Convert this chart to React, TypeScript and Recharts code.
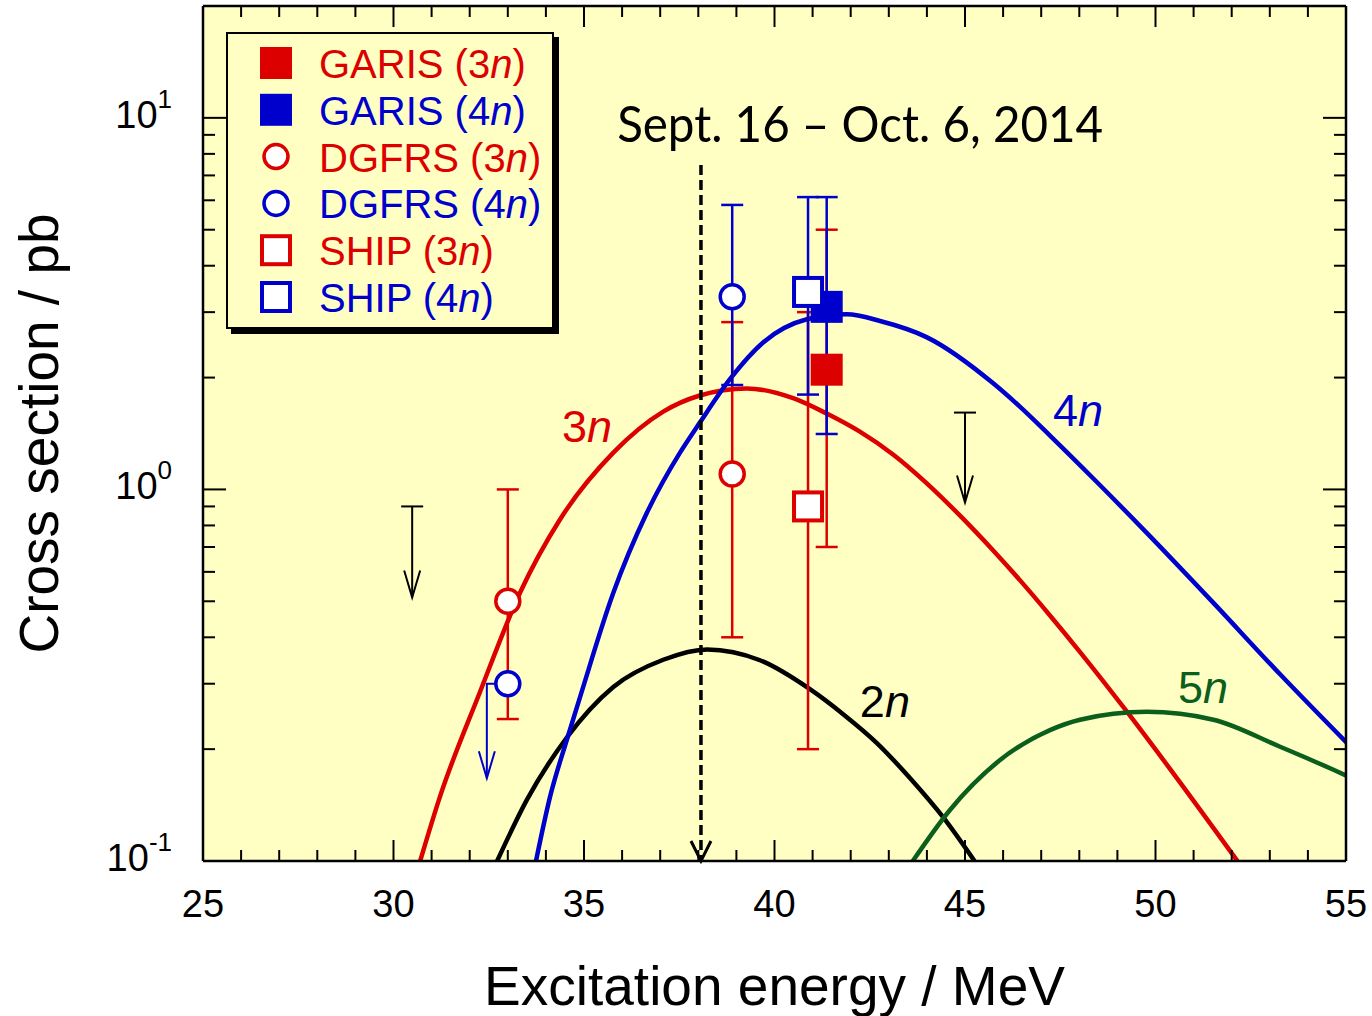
import React from "react";
import {
  ComposedChart,
  Line,
  Scatter,
  XAxis,
  YAxis,
  ErrorBar,
  ReferenceLine,
  ReferenceDot,
  CartesianGrid,
  Legend,
  Label,
} from "recharts";

const FONT = '"Liberation Sans", Arial, Helvetica, sans-serif';
const RED = "#dc0000";
const BLUE = "#0000cc";
const GREEN = "#0b5e1b";
const BG = "#ffffc4";

// axis ticks
const xTicks = Array.from({ length: 31 }, (_, i) => 25 + i);
const yTicks = [
  0.1, 0.2, 0.3, 0.4, 0.5, 0.6, 0.7, 0.8, 0.9,
  1, 2, 3, 4, 5, 6, 7, 8, 9,
  10,
];

// calculated excitation functions: [E* (MeV), sigma (pb)]
const fit2n: [number, number][] = [
  [32.72, 0.1], [33.5, 0.146], [34.55, 0.215], [35.77, 0.294], [37.08, 0.348],
  [38.23, 0.371], [39.62, 0.347], [40.93, 0.29], [41.81, 0.248], [42.68, 0.208],
  [43.56, 0.167], [44.43, 0.131], [45.25, 0.1],
];
const fit3n: [number, number][] = [
  [30.7, 0.1], [31.22, 0.149], [32.27, 0.285], [33.32, 0.527], [34.37, 0.83],
  [35.77, 1.256], [37.08, 1.62], [38.04, 1.79], [39.27, 1.87], [40.49, 1.76],
  [41.37, 1.6], [42.24, 1.43], [43.12, 1.24], [43.99, 1.04], [44.87, 0.85],
  [45.74, 0.685], [46.44, 0.57], [47.23, 0.458], [48.02, 0.365], [49.24, 0.253],
  [50.38, 0.177], [52.15, 0.1],
];
const fit4n: [number, number][] = [
  [33.74, 0.1], [34.11, 0.149], [34.55, 0.212], [34.9, 0.277], [35.77, 0.527],
  [36.65, 0.865], [37.52, 1.256], [38.04, 1.513], [38.83, 1.98], [39.71, 2.49],
  [40.85, 2.87], [41.9, 2.96], [42.77, 2.84], [43.99, 2.57], [45.74, 1.93],
  [46.44, 1.67], [47.23, 1.396], [48.46, 1.047], [49.77, 0.764], [51.52, 0.495],
  [53.27, 0.318], [55.02, 0.208],
];
const fit5n: [number, number][] = [
  [43.63, 0.1], [44.6, 0.137], [45.92, 0.187], [47.23, 0.225], [48.02, 0.24],
  [49.77, 0.252], [51.52, 0.24], [53.27, 0.203], [54.67, 0.176], [55.05, 0.169],
];

// measured cross sections, err = [minus, plus]
type Pt = { e: number; v: number; err?: [number, number] };
const garis3n: Pt[] = [{ e: 41.37, v: 2.1, err: [1.4, 2.9] }];
const garis4n: Pt[] = [{ e: 41.37, v: 3.1, err: [1.69, 3.02] }];
const dgfrs3n: Pt[] = [
  { e: 33.0, v: 0.5, err: [0.259, 0.5] },
  { e: 38.89, v: 1.1, err: [0.7, 1.72] },
];
const dgfrs4n: Pt[] = [
  { e: 33.0, v: 0.3 },
  { e: 38.89, v: 3.3, err: [1.39, 2.53] },
];
const ship3n: Pt[] = [{ e: 40.88, v: 0.9, err: [0.7, 2.1] }];
const ship4n: Pt[] = [{ e: 40.88, v: 3.4, err: [1.6, 2.72] }];

// upper limits: bar top, arrow tip
const limitsBlack = [
  { e: 30.49, top: 0.9, tip: 0.512 },
  { e: 45.0, top: 1.61, tip: 0.922 },
];
const limitsBlue = [{ e: 32.45, top: 0.3, tip: 0.167 }];

// run period marker
const runEnergy = 38.07;
const runTop = 7.47;

type Kind = "filledSquare" | "circle" | "openSquare";
const datasets: { name: string; n: number; kind: Kind; color: string; data: Pt[] }[] = [
  { name: "GARIS", n: 3, kind: "filledSquare", color: RED, data: garis3n },
  { name: "GARIS", n: 4, kind: "filledSquare", color: BLUE, data: garis4n },
  { name: "DGFRS", n: 3, kind: "circle", color: RED, data: dgfrs3n },
  { name: "DGFRS", n: 4, kind: "circle", color: BLUE, data: dgfrs4n },
  { name: "SHIP", n: 3, kind: "openSquare", color: RED, data: ship3n },
  { name: "SHIP", n: 4, kind: "openSquare", color: BLUE, data: ship4n },
];

const curves = [
  { n: 2, color: "#000", data: fit2n, label: { e: 42.24, v: 0.2444 } },
  { n: 3, color: RED, data: fit3n, label: { e: 34.42, v: 1.339 } },
  { n: 4, color: BLUE, data: fit4n, label: { e: 47.31, v: 1.479 } },
  { n: 5, color: GREEN, data: fit5n, label: { e: 50.59, v: 0.2667 } },
];

const toRows = (pts: [number, number][]) => pts.map(([e, v]) => ({ e, v }));

function Marker({ kind, color, cx, cy }: { kind: Kind; color: string; cx: number; cy: number }) {
  if (kind === "filledSquare")
    return <rect x={cx - 16} y={cy - 16} width={32} height={32} fill={color} />;
  if (kind === "openSquare")
    return (
      <rect x={cx - 14} y={cy - 14} width={28} height={28} fill="#fff" stroke={color} strokeWidth={4} />
    );
  return <circle cx={cx} cy={cy} r={12} fill="#fff" stroke={color} strokeWidth={3.5} />;
}

const isDecade = (v: number) => Math.abs(Math.log10(v) - Math.round(Math.log10(v))) < 1e-6;

function XTick(props: any) {
  const { x, y, payload, side } = props;
  const major = payload.value % 5 === 0;
  const len = major ? 21 : 11;
  const dir = side === "top" ? 1 : -1;
  return (
    <g>
      <line x1={x} y1={y} x2={x} y2={y + dir * len} stroke="#000" strokeWidth={2} />
      {side === "bottom" && major && (
        <text x={x} y={y + 56} textAnchor="middle" fontSize={38} fontFamily={FONT} fill="#000">
          {payload.value}
        </text>
      )}
    </g>
  );
}

function YTick(props: any) {
  const { x, y, payload, side } = props;
  const major = isDecade(payload.value);
  const len = major ? 23 : 12;
  const dir = side === "left" ? 1 : -1;
  return (
    <g>
      <line x1={x} y1={y} x2={x + dir * len} y2={y} stroke="#000" strokeWidth={2} />
      {side === "left" && major && (
        <text x={x - 31} y={y + 10} textAnchor="end" fontSize={38} fontFamily={FONT} fill="#000">
          10
          <tspan dy={-20} fontSize={26}>
            {Math.round(Math.log10(payload.value))}
          </tspan>
        </text>
      )}
    </g>
  );
}

function LimitArrow(props: any) {
  const { x1, y1, x2, y2, color, hook } = props;
  return (
    <g stroke={color} strokeWidth={2} fill="none">
      {hook ? (
        <polyline points={`${x1 + 8},${y1} ${x1},${y1} ${x2},${y2}`} />
      ) : (
        <>
          <line x1={x1 - 11} y1={y1} x2={x1 + 11} y2={y1} />
          <line x1={x1} y1={y1} x2={x2} y2={y2} />
        </>
      )}
      <polyline points={`${x2 - 8},${y2 - 27} ${x2},${y2} ${x2 + 8},${y2 - 27}`} />
    </g>
  );
}

function RunArrow(props: any) {
  const { x1, y1, x2, y2 } = props;
  return (
    <g stroke="#000" strokeWidth={3.5} fill="none">
      <line x1={x1} y1={y1} x2={x2} y2={y2 - 2} strokeDasharray="10 5" />
      <polyline points={`${x2 - 10},${y2 - 20} ${x2},${y2} ${x2 + 10},${y2 - 20}`} strokeWidth={3} />
    </g>
  );
}

function LegendBox() {
  return (
    <div
      style={{
        width: 324,
        height: 293,
        border: "2px solid #000",
        background: BG,
        boxShadow: "5px 5px 0 #000",
      }}
    >
      <svg width={324} height={293}>
        {datasets.map((d, i) => {
          const cy = 29 + i * 46.8;
          return (
            <g key={i}>
              <Marker kind={d.kind} color={d.color} cx={48} cy={cy} />
              <text x={91} y={cy + 15} fontSize={40} fontFamily={FONT} fill={d.color}>
                {d.name} ({d.n}
                <tspan fontStyle="italic">n</tspan>)
              </text>
            </g>
          );
        })}
      </svg>
    </div>
  );
}

export default function App() {
  const red = datasets.filter((d) => d.color === RED).flatMap((d) => d.data.filter((p) => p.err));
  const blue = datasets.filter((d) => d.color === BLUE).flatMap((d) => d.data.filter((p) => p.err));

  return (
    <div style={{ position: "absolute", left: 0, top: 0, width: 1372, height: 1016, background: "#fff" }}>
      <ComposedChart width={1372} height={1016} margin={{ top: 5, right: 25, bottom: 95, left: 103 }}>
        <CartesianGrid horizontal={false} vertical={false} fill={BG} fillOpacity={1} />
        <XAxis
          type="number"
          dataKey="e"
          domain={[25, 55]}
          ticks={xTicks}
          interval={0}
          allowDataOverflow
          height={60}
          tickSize={0}
          tickMargin={0}
          tickLine={false}
          axisLine={{ stroke: "#000", strokeWidth: 2.5 }}
          tick={(p: any) => <XTick {...p} side="bottom" />}
        >
          <Label
            content={(p: any) => (
              <text
                x={p.viewBox.x + p.viewBox.width / 2}
                y={p.viewBox.y + 144}
                textAnchor="middle"
                fontSize={55}
                fontFamily={FONT}
                fill="#000"
              >
                Excitation energy / MeV
              </text>
            )}
          />
        </XAxis>
        <XAxis
          xAxisId="top"
          orientation="top"
          type="number"
          dataKey="e"
          domain={[25, 55]}
          ticks={xTicks}
          interval={0}
          allowDataOverflow
          height={1}
          tickSize={0}
          tickMargin={0}
          tickLine={false}
          axisLine={{ stroke: "#000", strokeWidth: 2.5 }}
          tick={(p: any) => <XTick {...p} side="top" />}
        />
        <YAxis
          type="number"
          scale="log"
          domain={[0.1, 20]}
          ticks={yTicks}
          interval={0}
          allowDataOverflow
          width={100}
          tickSize={0}
          tickMargin={0}
          tickLine={false}
          axisLine={{ stroke: "#000", strokeWidth: 2.5 }}
          tick={(p: any) => <YTick {...p} side="left" />}
        >
          <Label
            content={(p: any) => {
              const x = p.viewBox.x - 45;
              const y = p.viewBox.y + p.viewBox.height / 2;
              return (
                <text
                  x={x}
                  y={y}
                  transform={`rotate(-90, ${x}, ${y})`}
                  textAnchor="middle"
                  fontSize={55}
                  fontFamily={FONT}
                  fill="#000"
                >
                  Cross section / pb
                </text>
              );
            }}
          />
        </YAxis>
        <YAxis
          yAxisId="right"
          orientation="right"
          type="number"
          scale="log"
          domain={[0.1, 20]}
          ticks={yTicks}
          interval={0}
          allowDataOverflow
          width={1}
          tickSize={0}
          tickMargin={0}
          tickLine={false}
          axisLine={{ stroke: "#000", strokeWidth: 2.5 }}
          tick={(p: any) => <YTick {...p} side="right" />}
        />

        {curves.map((c) => (
          <Line
            key={c.n}
            data={toRows(c.data)}
            dataKey="v"
            type="monotone"
            stroke={c.color}
            strokeWidth={4.5}
            dot={false}
            activeDot={false}
            legendType="none"
            isAnimationActive={false}
          />
        ))}

        <ReferenceLine
          segment={[
            { x: runEnergy, y: runTop },
            { x: runEnergy, y: 0.1 },
          ]}
          shape={(p: any) => <RunArrow {...p} />}
        />
        {limitsBlack.map((l, i) => (
          <ReferenceLine
            key={`k${i}`}
            segment={[
              { x: l.e, y: l.top },
              { x: l.e, y: l.tip },
            ]}
            shape={(p: any) => <LimitArrow {...p} color="#000" />}
          />
        ))}
        {limitsBlue.map((l, i) => (
          <ReferenceLine
            key={`b${i}`}
            segment={[
              { x: l.e, y: l.top },
              { x: l.e, y: l.tip },
            ]}
            shape={(p: any) => <LimitArrow {...p} color={BLUE} hook />}
          />
        ))}

        <Scatter data={red} dataKey="v" shape={() => <g />} legendType="none" isAnimationActive={false}>
          <ErrorBar dataKey="err" direction="y" width={11} stroke={RED} strokeWidth={2.5} />
        </Scatter>
        <Scatter data={blue} dataKey="v" shape={() => <g />} legendType="none" isAnimationActive={false}>
          <ErrorBar dataKey="err" direction="y" width={11} stroke={BLUE} strokeWidth={2.5} />
        </Scatter>

        {datasets.map((d, i) => (
          <Scatter
            key={i}
            name={`${d.name} (${d.n}n)`}
            data={d.data}
            dataKey="v"
            isAnimationActive={false}
            shape={(p: any) => <Marker kind={d.kind} color={d.color} cx={p.cx} cy={p.cy} />}
          />
        ))}

        {curves.map((c) => (
          <ReferenceDot
            key={`l${c.n}`}
            x={c.label.e}
            y={c.label.v}
            r={0}
            fill="none"
            stroke="none"
            label={(p: any) => (
              <text x={p.viewBox.x} y={p.viewBox.y} fontSize={45} fontFamily={FONT} fill={c.color}>
                {c.n}
                <tspan fontStyle="italic">n</tspan>
              </text>
            )}
          />
        ))}
        <ReferenceDot
          x={35.87}
          y={8.6}
          r={0}
          fill="none"
          stroke="none"
          label={(p: any) => (
            <text
              x={p.viewBox.x}
              y={p.viewBox.y}
              fontSize={50}
              fontFamily="Lato, 'Open Sans', sans-serif"
              textLength={486}
              lengthAdjust="spacingAndGlyphs"
              fill="#000"
            >
              Sept. 16 – Oct. 6, 2014
            </text>
          )}
        />

        <Legend
          layout="vertical"
          align="center"
          verticalAlign="middle"
          wrapperStyle={{ position: "absolute", left: 226, top: 32, width: 328, height: 297 }}
          content={() => <LegendBox />}
        />
      </ComposedChart>
    </div>
  );
}
